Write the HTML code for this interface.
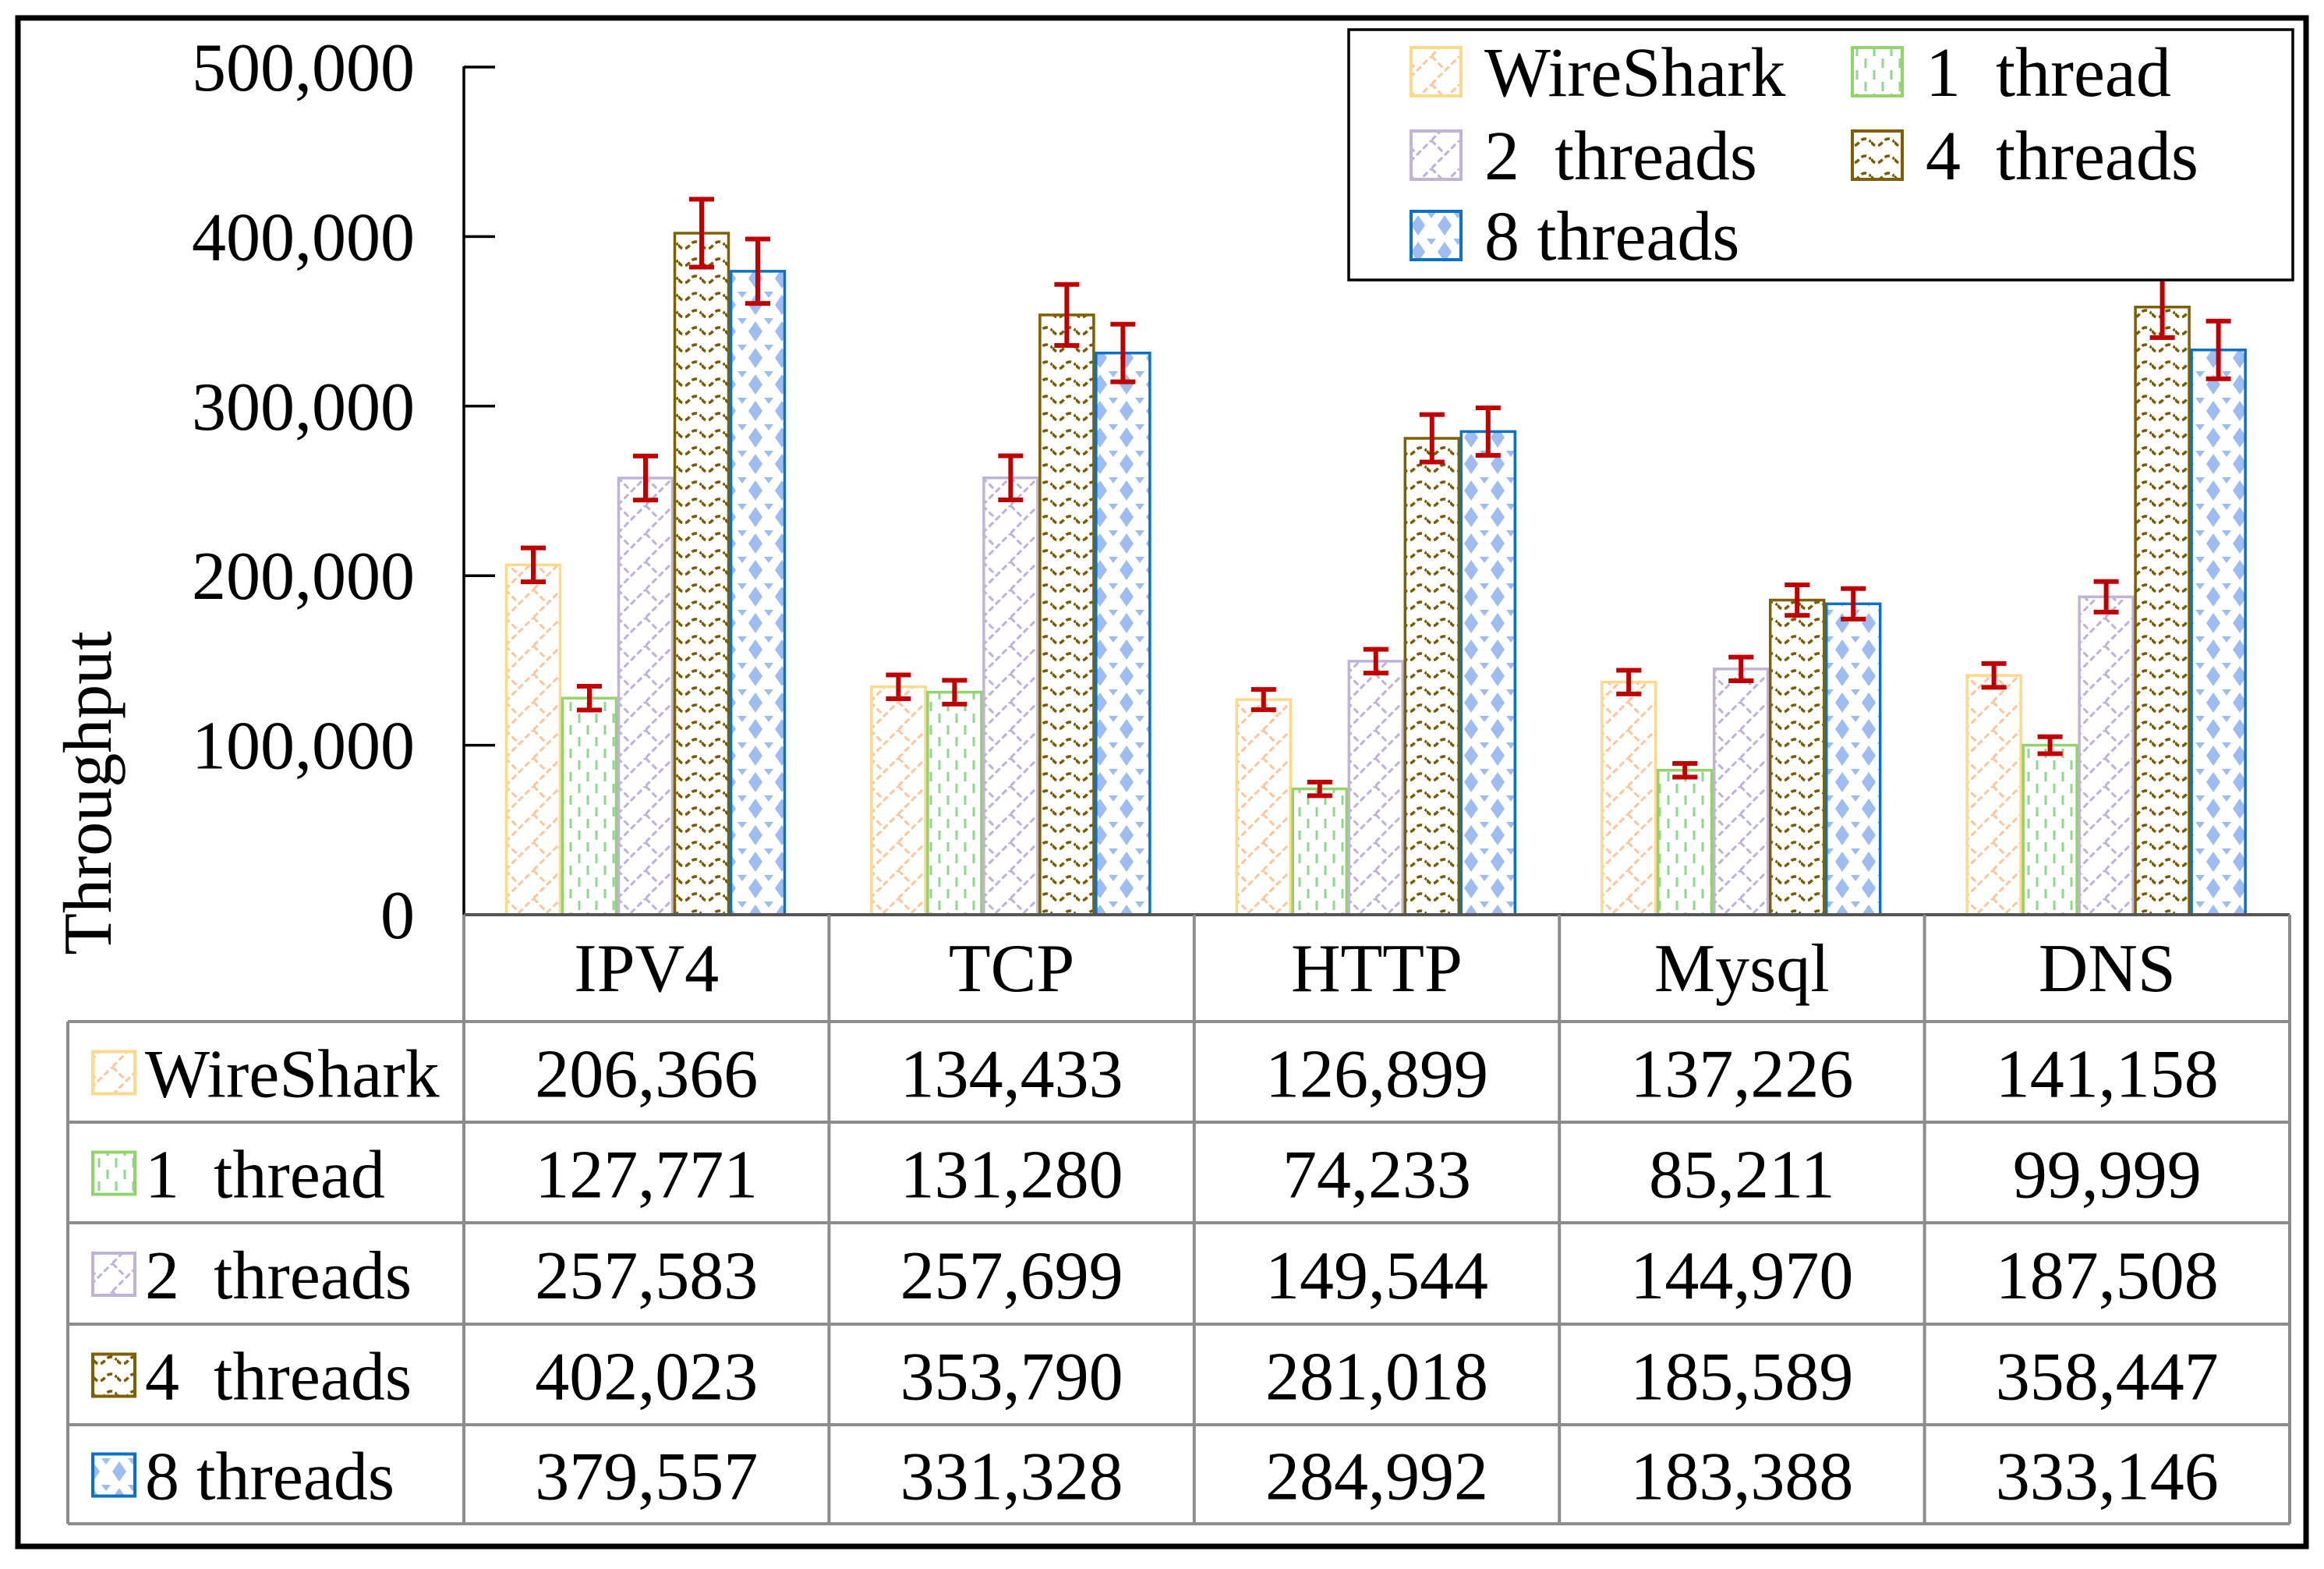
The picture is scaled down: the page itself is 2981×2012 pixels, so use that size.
<!DOCTYPE html>
<html><head><meta charset="utf-8">
<style>
html,body{margin:0;padding:0;background:#fff;}
svg{display:block;font-family:"Liberation Serif",serif;}
svg text{white-space:pre;}
</style></head>
<body>
<svg id="chart" width="2981" height="2012" viewBox="0 0 2981 2012" xmlns="http://www.w3.org/2000/svg">
<defs>
  <pattern id="p0" patternUnits="userSpaceOnUse" width="36" height="36">
    <path d="M0 36 L36 0 M0 0 L18 18" stroke="#ffc49a" stroke-width="3" stroke-dasharray="8 4" fill="none"/>
  </pattern>
  <pattern id="p1" patternUnits="userSpaceOnUse" width="22" height="30">
    <path d="M6 0 V12 M17 15 V27" stroke="#8fd68f" stroke-width="3" fill="none"/>
  </pattern>
  <pattern id="p2" patternUnits="userSpaceOnUse" width="36" height="36">
    <path d="M0 36 L36 0 M0 0 L18 18" stroke="#c0b0dc" stroke-width="3" stroke-dasharray="8 4" fill="none"/>
  </pattern>
  <pattern id="p3" patternUnits="userSpaceOnUse" width="30" height="22">
    <path d="M0 6 Q7 16 15 6 Q22 -2 30 6" stroke="#7a5a00" stroke-width="3.5" stroke-dasharray="7 4" fill="none"/>
  </pattern>
  <pattern id="p4" patternUnits="userSpaceOnUse" width="34" height="34">
    <path d="M17 4 L26 17 L17 30 L8 17 Z" fill="#9dbcf2"/>
    <path d="M0 0 L6 0 L0 8 Z M34 0 L28 0 L34 8 Z" fill="#9dbcf2"/>
  </pattern>
</defs>
<rect x="23" y="23" width="2935" height="1960" fill="#fff" stroke="#000" stroke-width="7"/>
<g id="plot"></g>
<g id="table"></g>
<g id="legend"></g>
<text transform="translate(142,1017) rotate(-90)" text-anchor="middle" font-size="88">Throughput</text>
</svg>
<script>
const categories = ["IPV4","TCP","HTTP","Mysql","DNS"];
const seriesNames = ["WireShark","1\u00a0 thread","2\u00a0 threads","4\u00a0 threads","8 threads"];
const wireshark = [206366,134433,126899,137226,141158];
const thread1 = [127771,131280,74233,85211,99999];
const threads2 = [257583,257699,149544,144970,187508];
const threads4 = [402023,353790,281018,185589,358447];
const threads8 = [379557,331328,284992,183388,333146];
const errWireshark = [10000,7000,6000,7000,7000];
const errThread1 = [7000,7000,4000,4000,5000];
const errThreads2 = [13000,13000,7000,7000,9000];
const errThreads4 = [20000,18000,14000,9000,18000];
const errThreads8 = [19000,17000,14000,9000,17000];
const yTicks = [0,100000,200000,300000,400000,500000];
const yTickLabels = ["0","100,000","200,000","300,000","400,000","500,000"];

const series = [wireshark,thread1,threads2,threads4,threads8];
const errs = [errWireshark,errThread1,errThreads2,errThreads4,errThreads8];
const strokes = ["#ffd98a","#90d46a","#bfb3d8","#7f6000","#0a72c4"];
const NS = "http://www.w3.org/2000/svg";
const x0 = 595, catW = 468.4, y0 = 1173, yTop = 86, yMax = 500000;
const yScale = v => y0 - (v / yMax) * (y0 - yTop);
const barW = 72, groupOff = 53;
const barX = (c, s) => x0 + c * catW + groupOff + s * barW;
function mk(tag, attrs, parent) {
  const e = document.createElementNS(NS, tag);
  for (const k in attrs) e.setAttribute(k, attrs[k]);
  parent.appendChild(e);
  return e;
}
const plot = document.getElementById('plot');
series.forEach((vals, s) => {
  vals.forEach((v, c) => {
    const r = mk('rect', {x: barX(c, s) + 1.5, y: yScale(v), width: barW - 3, height: y0 - yScale(v), fill: 'url(#p' + s + ')', stroke: strokes[s], 'stroke-width': 3.5}, plot);
    
    
  });
});
series.forEach((vals, s) => {
  vals.forEach((v, c) => {
    const cx = barX(c, s) + barW / 2;
    const yh = yScale(v + errs[s][c]), yl = yScale(v - errs[s][c]);
    const g = mk('g', {stroke: '#c00000', 'stroke-width': 6, fill: 'none'}, plot);
    
    
    mk('line', {x1: cx, x2: cx, y1: yh, y2: yl}, g);
    mk('line', {x1: cx - 16, x2: cx + 16, y1: yh, y2: yh}, g);
    mk('line', {x1: cx - 16, x2: cx + 16, y1: yl, y2: yl}, g);
  });
});
const ax = mk('line', {x1: x0, x2: x0, y1: yTop - 1, y2: y0, stroke: '#000', 'stroke-width': 3.5}, plot);


yTicks.forEach((t, i) => {
  const y = yScale(t);
  const tk = mk('line', {x1: x0, x2: x0 + 40, y1: y, y2: y, stroke: '#000', 'stroke-width': 3.5}, plot);
  
  
  const tl = mk('text', {x: 532, y: y + 30, 'text-anchor': 'end', 'font-size': 88}, plot);
  tl.textContent = yTickLabels[i];
  
  
});
const tb = document.getElementById('table');
const rows = [1173, 1310, 1439, 1568, 1698, 1827, 1954];
const colL = 87, tableR = x0 + 5 * catW;
const gc = '#8c8c8c';
for (let r = 0; r < rows.length; r++) {
  const xl = r === 0 ? x0 : colL;
  const l = mk('line', {x1: xl, x2: tableR, y1: rows[r], y2: rows[r], stroke: r === 0 ? '#555' : gc, 'stroke-width': 4}, tb);
  
  
}
const vl = mk('line', {x1: colL, x2: colL, y1: rows[1], y2: rows[6], stroke: gc, 'stroke-width': 4}, tb);


for (let c = 0; c <= 5; c++) {
  const xx = x0 + c * catW;
  const l = mk('line', {x1: xx, x2: xx, y1: rows[0], y2: rows[6], stroke: gc, 'stroke-width': 4}, tb);
  
  
}
categories.forEach((cat, c) => {
  const t = mk('text', {x: x0 + c * catW + catW / 2, y: rows[0] + 98, 'text-anchor': 'middle', 'font-size': 88}, tb);
  t.textContent = cat;
  
  
});
series.forEach((vals, s) => {
  const ry = rows[s + 1], rh = rows[s + 2] - ry;
  const sw = mk('rect', {x: 119, y: ry + rh / 2 - 26, width: 54, height: 54, fill: 'url(#p' + s + ')', stroke: strokes[s], 'stroke-width': 4}, tb);
  
  
  const nm = mk('text', {x: 186, y: ry + rh / 2 + 32, 'font-size': 88}, tb);
  nm.textContent = seriesNames[s];
  
  
  vals.forEach((v, c) => {
    const t = mk('text', {x: x0 + c * catW + catW / 2, y: ry + rh / 2 + 32, 'text-anchor': 'middle', 'font-size': 88}, tb);
    t.textContent = v.toLocaleString('en-US');
    
    
  });
});
const lg = document.getElementById('legend');
const lb = mk('rect', {x: 1730, y: 38, width: 1211, height: 321, fill: '#fff', stroke: '#000', 'stroke-width': 3.5}, lg);


const lpos = [[1810, 123], [2376, 123], [1810, 230], [2376, 230], [1810, 333]];
series.forEach((vals, s) => {
  const [lx, ly] = lpos[s];
  const sw = mk('rect', {x: lx, y: ly - 62, width: 64, height: 62, fill: 'url(#p' + s + ')', stroke: strokes[s], 'stroke-width': 4}, lg);
  
  
  const t = mk('text', {x: lx + 94, y: ly, 'font-size': 90}, lg);
  t.textContent = seriesNames[s];
  
  
});
</script>
</body></html>
